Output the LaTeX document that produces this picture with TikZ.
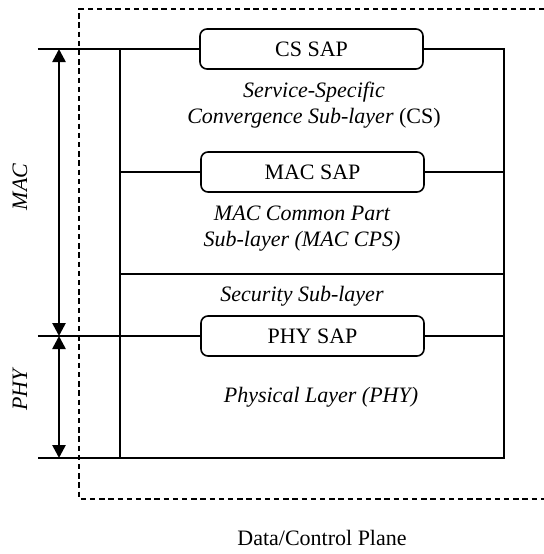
\documentclass[tikz,border=0pt]{standalone}
\usepackage{fontspec}
\setmainfont{Liberation Serif}
\usetikzlibrary{arrows.meta}

\begin{document}
\begin{tikzpicture}[x=0.5pt,y=-0.5pt,line width=0.8pt,
	every node/.style={font=\fontsize{11}{13}\selectfont},
	sap/.style={draw,rounded corners=3.5pt,minimum width=111.5pt,minimum height=20pt,inner sep=0pt,fill=white},
	lbl/.style={font=\fontsize{11}{13}\selectfont\itshape,align=center},
	dim/.style={{Triangle[length=6.5pt,width=6.5pt]}-{Triangle[length=6.5pt,width=6.5pt]},line width=1.3pt}]
	\useasboundingbox (0,0) rectangle (544,554);
	% frame of the plane
	\draw[line width=0.75pt,dash pattern=on 2.7pt off 1.9pt] (544,9) -- (79,9) -- (79,499) -- (544,499);
	\coordinate (tl) at (120,49); \coordinate (tr) at (504,49);
	\coordinate (ml) at (120,172); \coordinate (mr) at (504,172);
	\coordinate (sl) at (120,274); \coordinate (sr) at (504,274);
	\coordinate (pl) at (120,336); \coordinate (pr) at (504,336);
	\coordinate (bl) at (120,458); \coordinate (br) at (504,458);
	\coordinate (ta) at (38,49); \coordinate (pa) at (38,336); \coordinate (ba) at (38,458);
	\node[sap] (cs) at (311.5,49) {CS SAP};
	\node[sap] (mac) at (312.5,172) {MAC SAP};
	\node[sap] (phy) at (312.5,336) {PHY SAP};
	\draw (ta) -- (cs.west); \draw (cs.east) -- (tr) -- (br) -- (ba);
	\draw (tl) -- (bl);
	\draw (ml) -- (mac.west); \draw (mac.east) -- (mr);
	\draw (sl) -- (sr);
	\draw (pa) -- (phy.west); \draw (phy.east) -- (pr);
	% layer spans
	\coordinate (mt) at (59,49); \coordinate (mb) at (59,336); \coordinate (pb) at (59,458);
	\draw[dim] (mt) -- (mb);
	\draw[dim] (mb) -- (pb);
	\node[lbl,rotate=90] (maclbl) at (20,187) {MAC};
	\node[lbl,rotate=90] (phylbl) at (20,390) {PHY};
	% sub-layers
	\node[lbl] (cslbl) at (314,105) {Service-Specific\\Convergence Sub-layer \textup{(CS)}};
	\node[lbl] (cpslbl) at (302,229) {MAC Common Part\\Sub-layer (MAC CPS)};
	\node[lbl] (seclbl) at (302,296) {Security Sub-layer};
	\node[lbl] (physlbl) at (321,397) {Physical Layer (PHY)};
	\node (plane) at (322,538) {Data/Control Plane};
\end{tikzpicture}
\end{document}
